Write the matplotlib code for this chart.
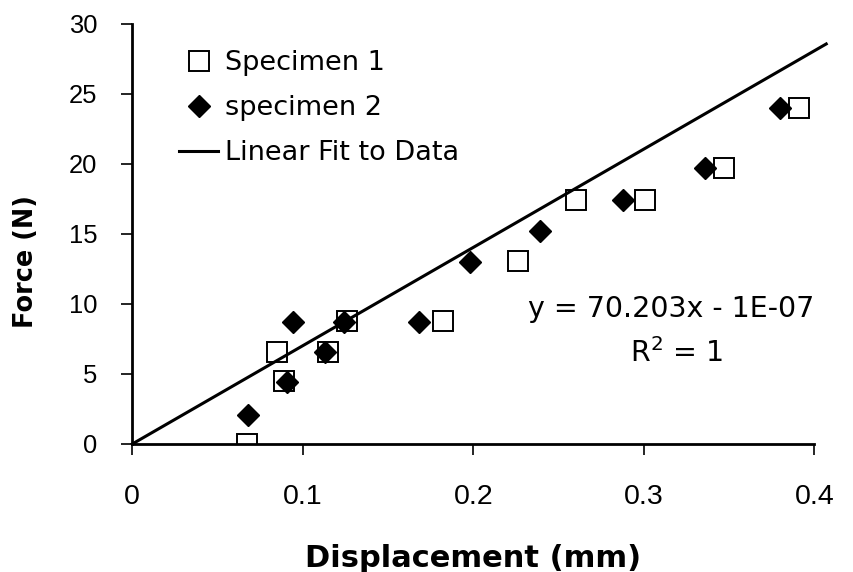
import matplotlib
matplotlib.use("Agg")
import matplotlib.pyplot as plt
import numpy as np

# ---- data ----
spec1_x = [0.067, 0.085, 0.089, 0.115, 0.126, 0.182, 0.226, 0.260, 0.301, 0.347, 0.391]
spec1_y = [0.0, 6.6, 4.5, 6.6, 8.8, 8.8, 13.1, 17.4, 17.4, 19.7, 24.0]
spec2_x = [0.068, 0.091, 0.094, 0.113, 0.124, 0.168, 0.198, 0.239, 0.288, 0.336, 0.380]
spec2_y = [2.1, 4.4, 8.7, 6.6, 8.7, 8.7, 13.0, 15.2, 17.4, 19.7, 24.0]
fit_slope = 70.203
fit_intercept = -1e-07
fit_x = [0.0, 0.407]
x_ticks = [0, 0.1, 0.2, 0.3, 0.4]
x_tick_labels = ["0", "0.1", "0.2", "0.3", "0.4"]
y_ticks = [0, 5, 10, 15, 20, 25, 30]

plt.rcParams['font.family'] = ['Liberation Sans', 'DejaVu Sans']

fig = plt.figure(figsize=(8.54, 5.72), dpi=100)
ax = fig.add_axes([0.1549, 0.2238, 0.7986, 0.7343])

fx = np.array(fit_x)
ax.plot(spec1_x, spec1_y, linestyle='none', marker='s', ms=14, mfc='none',
        mec='black', mew=1.4, label='Specimen 1', zorder=3)
ax.plot(spec2_x, spec2_y, linestyle='none', marker='D', ms=11.5, mfc='black',
        mec='black', mew=1, label='specimen 2', zorder=4)
ax.plot(fx, fit_slope * fx + fit_intercept, color='black', lw=2.2,
        label='Linear Fit to Data', clip_on=False, zorder=2)

ax.set_xlim(0, 0.4)
ax.set_ylim(0, 30)
ax.set_xticks(x_ticks)
ax.set_xticklabels(x_tick_labels)
ax.set_yticks(y_ticks)

for s in ['top', 'right']:
    ax.spines[s].set_visible(False)
for s in ['left', 'bottom']:
    ax.spines[s].set_linewidth(2)

ax.tick_params(axis='both', direction='out', length=8, width=1.2, color='black')
ax.tick_params(axis='x', labelsize=20.5, pad=21)
ax.tick_params(axis='y', labelsize=18.4, pad=17)

ax.set_xlabel('Displacement (mm)', fontsize=22, fontweight='bold',
              family='DejaVu Sans', va='top')
ax.xaxis.set_label_coords(0.5, -0.238)
ax.set_ylabel('Force (N)', fontsize=18.4, fontweight='bold',
              family='DejaVu Sans', va='center')
ax.yaxis.set_label_coords(-0.1559, 0.4333)

leg = ax.legend(loc='upper left', bbox_to_anchor=(0.0685, 0.937), frameon=False,
                borderpad=0, borderaxespad=0, handlelength=1.45, handletextpad=0.25,
                labelspacing=0.70, numpoints=1,
                prop={'family': 'DejaVu Sans', 'size': 19.5})

ax.text(0.79, 0.303, 'y = 70.203x - 1E-07', transform=ax.transAxes,
        ha='center', va='baseline', fontsize=20.5, family='DejaVu Sans')
ax.text(0.7985, 0.195, r'$\mathregular{R^2}$ = 1', transform=ax.transAxes,
        ha='center', va='baseline', fontsize=20.5, family='DejaVu Sans')

fig.savefig('out.png', dpi=100)
